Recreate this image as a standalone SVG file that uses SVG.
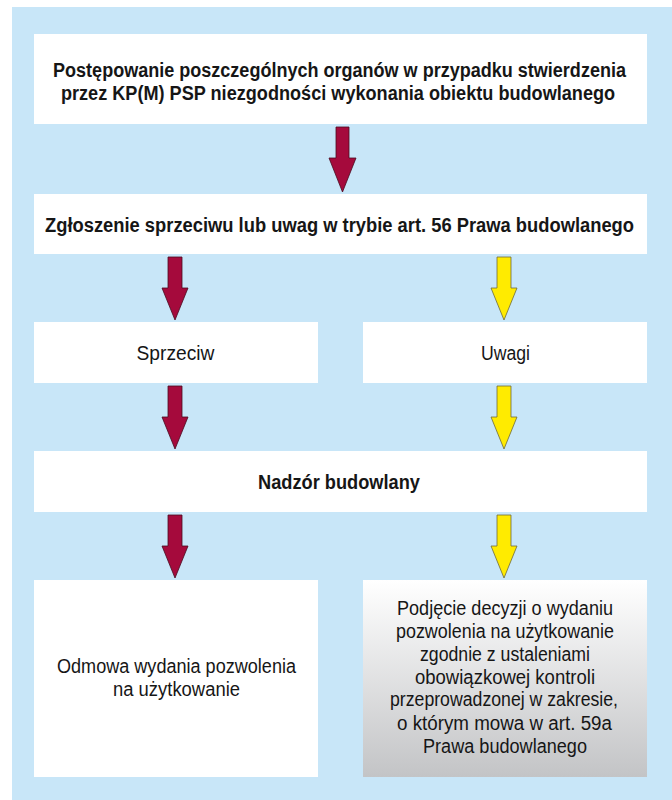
<svg xmlns="http://www.w3.org/2000/svg" width="672" height="800" viewBox="0 0 672 800">
<style>
.box{fill:#ffffff}
.t{font-family:"Liberation Sans",Arial,sans-serif;fill:#161616;text-anchor:middle}
.b{font-weight:bold;font-size:20.5px}
.r{font-size:20px}
.red{fill:#a50a3c;stroke:#4a0a1e;stroke-width:0.8}
.yel{fill:#ffeb00;stroke:#6e6a3a;stroke-width:0.8}
</style>
<defs>
<linearGradient id="g" x1="0" y1="0" x2="0" y2="1">
<stop offset="0" stop-color="#ffffff"/>
<stop offset="1" stop-color="#c3c4c6"/>
</linearGradient>
</defs>
<rect x="12" y="7" width="660" height="793" fill="#c8e6f8"/>
<g id="connectors">
<polygon class="red" points="336,127 349,127 349,158 356,158 342.5,192 329,158 336,158"/>
<polygon class="red" points="168,257 182,257 182,288 188,288 175,320 162,288 168,288"/>
<polygon class="yel" points="497,257 511,257 511,288 517,288 504,320 491,288 497,288"/>
<polygon class="red" points="168,386 182,386 182,417 188,417 175,449 162,417 168,417"/>
<polygon class="yel" points="497,386 511,386 511,417 517,417 504,449 491,417 497,417"/>
<polygon class="red" points="168,515 182,515 182,546 188,546 175,578 162,546 168,546"/>
<polygon class="yel" points="497,515 511,515 511,546 517,546 504,578 491,546 497,546"/>
</g>
<g id="n1">
<rect class="box" x="34" y="34" width="613" height="90"/>
<text class="t b" transform="translate(339.5 77) scale(0.85 1)" textLength="674" lengthAdjust="spacingAndGlyphs">Postępowanie poszczególnych organów w przypadku stwierdzenia</text>
<text class="t b" transform="translate(338 100) scale(0.85 1)" textLength="652" lengthAdjust="spacingAndGlyphs">przez KP(M) PSP niezgodności wykonania obiektu budowlanego</text>
</g>
<g id="n2">
<rect class="box" x="34" y="194" width="613" height="60"/>
<text class="t b" transform="translate(339.5 232) scale(0.85 1)" textLength="693" lengthAdjust="spacingAndGlyphs">Zgłoszenie sprzeciwu lub uwag w trybie art. 56 Prawa budowlanego</text>
</g>
<g id="n3">
<rect class="box" x="34" y="322" width="284" height="61"/>
<text class="t r" x="175.5" y="360" textLength="78" lengthAdjust="spacingAndGlyphs">Sprzeciw</text>
</g>
<g id="n4">
<rect class="box" x="363" y="322" width="284" height="61"/>
<text class="t r" x="505.5" y="360" textLength="49" lengthAdjust="spacingAndGlyphs">Uwagi</text>
</g>
<g id="n5">
<rect class="box" x="34" y="451" width="613" height="61"/>
<text class="t b" x="339" y="489" textLength="162" lengthAdjust="spacingAndGlyphs">Nadzór budowlany</text>
</g>
<g id="n6">
<rect class="box" x="34" y="580" width="284" height="197"/>
<text class="t r" x="176.5" y="673" textLength="239" lengthAdjust="spacingAndGlyphs">Odmowa wydania pozwolenia</text>
<text class="t r" x="176.5" y="696" textLength="127" lengthAdjust="spacingAndGlyphs">na użytkowanie</text>
</g>
<g id="n7">
<rect x="363" y="580" width="284" height="197" fill="url(#g)"/>
<text class="t r" x="505" y="615" textLength="216" lengthAdjust="spacingAndGlyphs">Podjęcie decyzji o wydaniu</text>
<text class="t r" x="505" y="638" textLength="218" lengthAdjust="spacingAndGlyphs">pozwolenia na użytkowanie</text>
<text class="t r" x="505" y="661" textLength="170" lengthAdjust="spacingAndGlyphs">zgodnie z ustaleniami</text>
<text class="t r" x="505" y="684" textLength="180" lengthAdjust="spacingAndGlyphs">obowiązkowej kontroli</text>
<text class="t r" x="504" y="706" textLength="228" lengthAdjust="spacingAndGlyphs">przeprowadzonej w zakresie,</text>
<text class="t r" x="504.5" y="730" textLength="215" lengthAdjust="spacingAndGlyphs">o którym mowa w art. 59a</text>
<text class="t r" x="505" y="753" textLength="164" lengthAdjust="spacingAndGlyphs">Prawa budowlanego</text>
</g>
</svg>
